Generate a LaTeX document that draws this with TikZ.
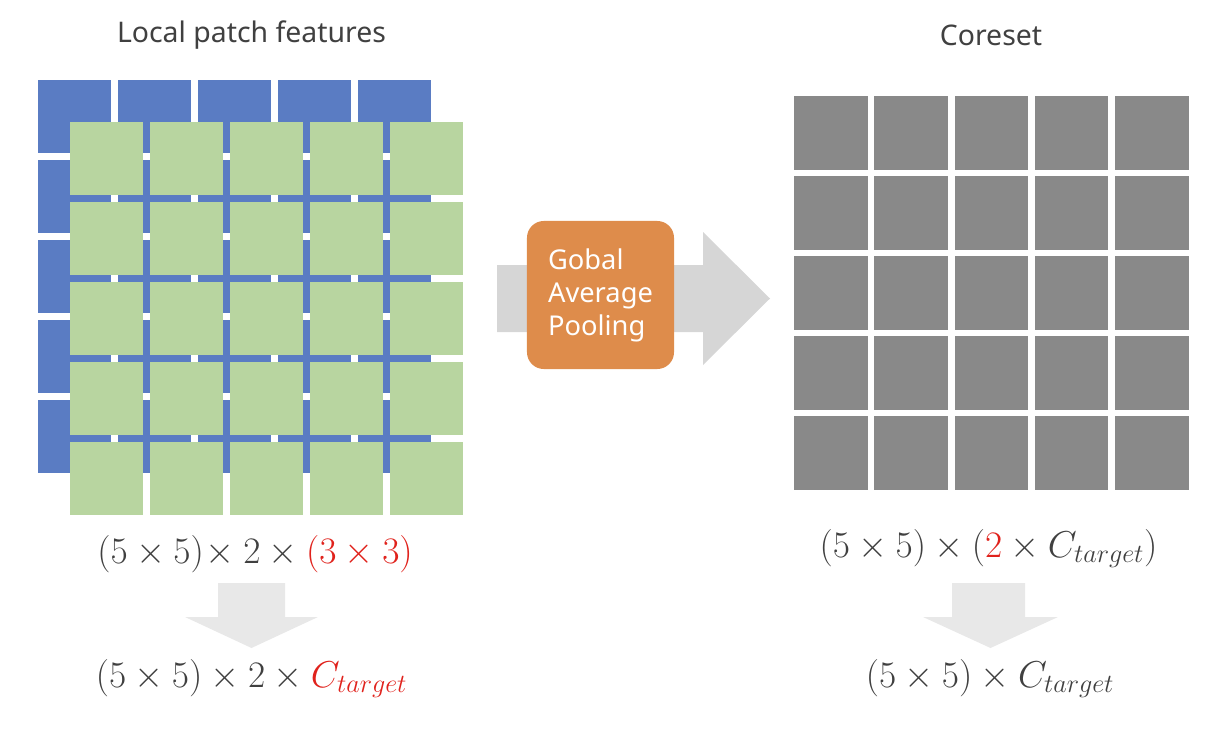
\RequirePackage{fix-cm}
\documentclass[tikz,border=0pt]{standalone}
\usepackage{fontspec}
\setmainfont{Noto Sans}
\usepackage{xcolor}
\usetikzlibrary{positioning}

\definecolor{patchblue}{HTML}{5A7CC3}
\definecolor{patchgreen}{HTML}{B8D5A0}
\definecolor{coregray}{HTML}{898989}
\definecolor{gaporange}{HTML}{DE8C4B}
\definecolor{arrowgray}{HTML}{D6D6D6}
\definecolor{downgray}{HTML}{E8E8E8}
\definecolor{textgray}{HTML}{404040}
\definecolor{fred}{HTML}{E0221C}

\tikzset{
  title/.style={text=textgray, font=\fontsize{20.2}{24}\selectfont},
  formula/.style={text=textgray, font=\fontsize{26.6}{31}\selectfont, anchor=base},
  poolbox/.style={fill=gaporange, rounded corners=0.42cm, minimum width=3.675cm,
    minimum height=3.7cm, text=white, align=left, font=\fontsize{19.4}{23.4}\selectfont}
}

\begin{document}
\begin{tikzpicture}[x=0.025cm, y=-0.025cm]
  \useasboundingbox (0,0) rectangle (1231,730);

  % Local patch features (Left)
  \node[title] (title-local) at (251.5, 35) {Local patch features};
  \foreach \i in {0,...,4}
    \foreach \j in {0,...,4}
      \fill[patchblue] (38+80*\i, 80+80*\j) rectangle ++(73,73);
  \foreach \i in {0,...,4}
    \foreach \j in {0,...,4}
      \fill[patchgreen] (70+80*\i, 122+80*\j) rectangle ++(73,73);

  % Arrow + pooling box
  \fill[arrowgray] (497,265) -- (703,265) -- (703,232) -- (770,298.5)
    -- (703,365) -- (703,332) -- (497,332) -- cycle;
  \node[poolbox] (pool) at (600.5, 295) {Gobal\\Average\\Pooling};

  % Coreset (Right)
  \node[title] (title-core) at (991, 35) {Coreset};
  \foreach \i in {0,...,4}
    \foreach \j in {0,...,4}
      \fill[coregray] (794+80.25*\i, 96+80*\j) rectangle ++(73.5,73.5);

  % Sizes
  \node[formula] (size-local) at (255, 563)
    {$(5\times 5)\!\times 2\times {\color{fred}(3\times 3)}$};
  \node[formula] (size-core) at (988.5, 557)
    {$(5\times 5)\times ({\color{fred}2}\times C_{target})$};
  \fill[downgray] (218,583) -- (285,583) -- (285,617) -- (318,617) -- (251.5,648)
    -- (185,617) -- (218,617) -- cycle;
  \fill[downgray] (952,583) -- (1025,583) -- (1025,617) -- (1058,617) -- (990.5,648)
    -- (923,617) -- (952,617) -- cycle;
  \node[formula] (target-local) at (251.5, 687)
    {$(5\times 5)\times 2\times {\color{fred}C_{target}}$};
  \node[formula] (target-core) at (990, 687)
    {$(5\times 5)\times C_{target}$};
\end{tikzpicture}
\end{document}
